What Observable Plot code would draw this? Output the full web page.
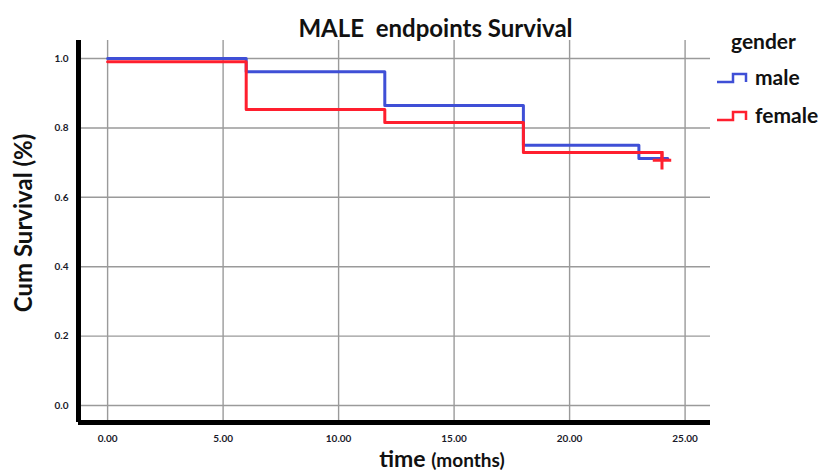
<!DOCTYPE html>
<html>
<head>
<meta charset="utf-8">
<script src="https://cdn.jsdelivr.net/npm/d3@7"></script>
<script src="https://cdn.jsdelivr.net/npm/@observablehq/plot@0.6"></script>
<style>
  body { margin: 0; background: #fff; }
  #wrap { position: relative; width: 830px; height: 474px; }
  #legend { position: absolute; left: 0; top: 0; font-family: Lato, sans-serif; font-weight: bold; color: #111; }
  #legend div { position: absolute; white-space: nowrap; }
</style>
</head>
<body>
<div id="wrap">
  <div id="chart"></div>
  <div id="legend"></div>
</div>
<script>
const titleText = "MALE  endpoints Survival";
const yLabel = "Cum Survival (%)";
const legendTitle = "gender";
const groups = ["male", "female"];
const groupColors = ["#3f4fd6", "#ff1f2e"];

const maleTime = [0, 6, 12, 18, 23, 24.25];
const maleSurv = [1.0, 0.962, 0.865, 0.75, 0.712, 0.712];
const femaleTime = [0, 6, 12, 18, 24];
const femaleSurv = [0.991, 0.853, 0.816, 0.729, 0.712];
const censorTime = [24];
const censorSurv = [0.707];

const xTicks = [0, 5, 10, 15, 20, 25];
const yTicks = [0, 0.2, 0.4, 0.6, 0.8, 1.0];
const xDomain = [-1.26, 26.1];
const yDomain = [-0.049, 1.052];

const male = maleTime.map((t, i) => ({t, s: maleSurv[i], g: "male"}));
const female = femaleTime.map((t, i) => ({t, s: femaleSurv[i], g: "female"}));
const censor = censorTime.map((t, i) => ({t, s: censorSurv[i]}));

const font = "Lato, 'Open Sans', sans-serif";

const plot = Plot.plot({
  width: 830,
  height: 474,
  marginLeft: 78,
  marginRight: 120,
  marginTop: 40,
  marginBottom: 52,
  style: {fontFamily: font, background: "#fff"},
  x: {domain: xDomain, ticks: xTicks, label: null},
  y: {domain: yDomain, ticks: yTicks, label: null},
  marks: [
    Plot.gridX(xTicks, {stroke: "#9a9a9a", strokeOpacity: 1, strokeWidth: 1.4}),
    Plot.gridY(yTicks, {stroke: "#9a9a9a", strokeOpacity: 1, strokeWidth: 1.4}),
    Plot.axisX(xTicks, {tickSize: 0, tickPadding: 12, tickFormat: d3.format(".2f"), fontSize: 10, fontWeight: "bold", fill: "#1a1a2a", label: null}),
    Plot.axisY(yTicks, {tickSize: 0, tickPadding: 10, tickFormat: d3.format(".1f"), fontSize: 10, fontWeight: "bold", fill: "#1a1a2a", label: null}),
    Plot.ruleX([xDomain[0]], {stroke: "#000", strokeWidth: 5}),
    Plot.ruleY([yDomain[0]], {stroke: "#000", strokeWidth: 5}),
    Plot.line(male, {x: "t", y: "s", curve: "step-after", stroke: groupColors[0], strokeWidth: 3}),
    Plot.line(female, {x: "t", y: "s", curve: "step-after", stroke: groupColors[1], strokeWidth: 3}),
    Plot.dot(censor, {x: "t", y: "s", symbol: "plus", r: 6, stroke: groupColors[1], strokeWidth: 3}),
    Plot.text([titleText], {frameAnchor: "top", dx: 41, dy: -21, fontSize: 24, fontWeight: "bold", fill: "#111"})
  ]
});
document.getElementById("chart").appendChild(plot);

const svg = d3.select(plot);

// y-axis label
svg.append("text")
  .attr("transform", "translate(32,223) rotate(-90)")
  .attr("text-anchor", "middle")
  .attr("font-family", font)
  .attr("font-size", 24)
  .attr("font-weight", "bold")
  .attr("fill", "#111")
  .text(yLabel);

// x-axis label with mixed styles
const xl = svg.append("text")
  .attr("x", 442).attr("y", 467)
  .attr("text-anchor", "middle")
  .attr("font-family", font)
  .attr("fill", "#111");
xl.append("tspan").attr("font-size", 23).attr("font-weight", "bold").text("time ");
xl.append("tspan").attr("font-size", 19).attr("font-weight", "bold").text("(months)");

// legend
const lg = document.getElementById("legend");
const t = document.createElement("div");
t.textContent = legendTitle;
t.style.cssText = "left:731px; top:28px; font-size:21px;";
lg.appendChild(t);
groups.forEach((g, i) => {
  const top = 64 + i * 38;
  const sw = document.createElementNS("http://www.w3.org/2000/svg", "svg");
  sw.setAttribute("width", 36); sw.setAttribute("height", 14);
  sw.style.cssText = `position:absolute; left:715px; top:${top + 7}px;`;
  const p = document.createElementNS("http://www.w3.org/2000/svg", "path");
  p.setAttribute("d", "M2,11 H18 V3 H31 V11");
  p.setAttribute("fill", "none"); p.setAttribute("stroke", groupColors[i]); p.setAttribute("stroke-width", 2.5);
  sw.appendChild(p);
  lg.appendChild(sw);
  const d = document.createElement("div");
  d.textContent = g;
  d.style.cssText = `left:755px; top:${top}px; font-size:21px;`;
  lg.appendChild(d);
});
</script>
</body>
</html>
